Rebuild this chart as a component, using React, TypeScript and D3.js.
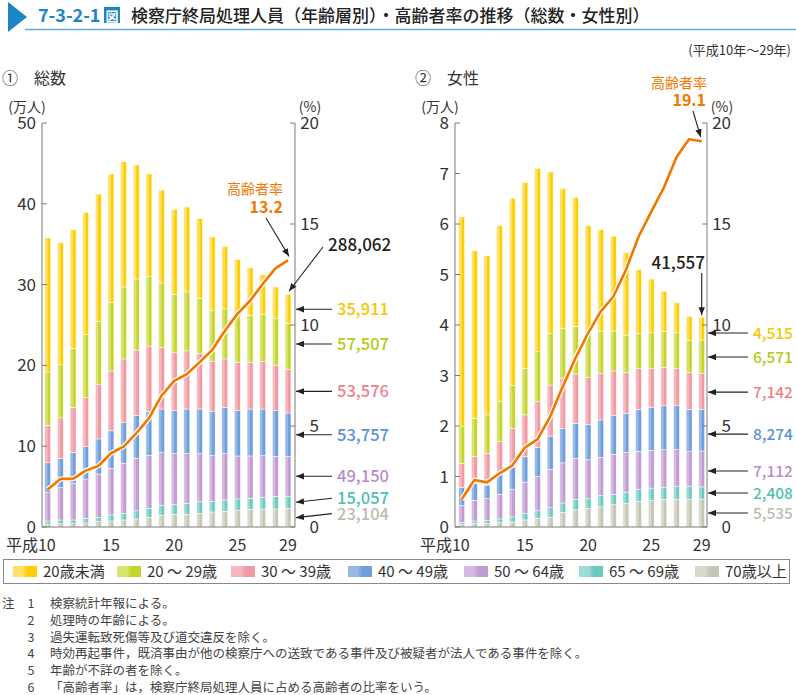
import React from "react";
import * as d3 from "d3";

const YEARS = [10, 11, 12, 13, 14, 15, 16, 17, 18, 19, 20, 21, 22, 23, 24, 25, 26, 27, 28, 29];
const X_TICKS = [10, 15, 20, 25, 29];
const KEYS = ["70p", "6569", "5064", "4049", "3039", "2029", "u20"];
const LEGEND_LABELS = ["20歳未満", "20 ～ 29歳", "30 ～ 39歳", "40 ～ 49歳", "50 ～ 64歳", "65 ～ 69歳", "70歳以上"];

// 総数 (万人)
const TOTAL_70P = [0.37, 0.4, 0.4, 0.5, 0.66, 0.74, 0.87, 1.0, 1.2, 1.44, 1.57, 1.57, 1.7, 1.86, 1.94, 2.1, 2.19, 2.23, 2.23, 2.3104];
const TOTAL_6569 = [0.37, 0.47, 0.47, 0.57, 0.54, 0.75, 0.82, 1.0, 1.1, 1.24, 1.23, 1.36, 1.44, 1.32, 1.4, 1.37, 1.36, 1.44, 1.57, 1.5057];
const TOTAL_5064 = [3.51, 4.0, 4.53, 4.87, 5.36, 5.77, 6.19, 6.5, 6.57, 6.52, 6.28, 6.15, 5.94, 5.65, 5.74, 5.32, 5.24, 5.16, 4.95, 4.915];
const TOTAL_4049 = [3.71, 3.63, 3.84, 4.0, 4.34, 4.64, 5.02, 5.3, 5.43, 5.4, 5.32, 5.52, 5.52, 5.47, 5.72, 5.61, 5.81, 5.77, 5.65, 5.3757];
const TOTAL_3039 = [4.64, 5.0, 5.56, 6.06, 6.7, 7.4, 7.9, 8.1, 8.1, 7.6, 7.2, 7.2, 6.9, 6.2, 6.0, 6.0, 5.8, 5.9, 5.6, 5.3576];
const TOTAL_2029 = [6.6, 6.6, 7.3, 7.8, 7.8, 8.5, 8.9, 8.8, 8.6, 8.0, 7.2, 7.3, 6.8, 6.3, 6.2, 5.6, 5.8, 5.8, 5.8, 5.7507];
const TOTAL_U20 = [16.6, 15.1, 14.7, 15.1, 15.8, 15.9, 15.5, 14.1, 12.7, 11.5, 10.5, 10.5, 9.9, 9.1, 7.7, 7.1, 5.9, 4.9, 3.9, 3.5911];
const TOTAL_RATE = [1.86, 2.38, 2.38, 2.79, 3.02, 3.65, 3.98, 4.64, 5.38, 6.5, 7.23, 7.57, 8.15, 8.76, 9.7, 10.55, 11.2, 12.03, 12.8, 13.2];
const TOTAL_LAST_LABELS = ["23,104", "15,057", "49,150", "53,757", "53,576", "57,507", "35,911"];
const TOTAL_SUM_LABEL = "288,062";
const TOTAL_RATE_LABEL = "13.2";

// 女性 (万人)
const FEMALE_70P = [0.05, 0.07, 0.07, 0.09, 0.1, 0.14, 0.17, 0.19, 0.29, 0.34, 0.37, 0.4, 0.44, 0.47, 0.51, 0.53, 0.55, 0.55, 0.55, 0.5535];
const FEMALE_6569 = [0.04, 0.05, 0.055, 0.07, 0.1, 0.13, 0.15, 0.19, 0.185, 0.2, 0.19, 0.22, 0.21, 0.22, 0.23, 0.24, 0.24, 0.26, 0.26, 0.2408];
const FEMALE_5064 = [0.34, 0.41, 0.435, 0.49, 0.55, 0.62, 0.68, 0.76, 0.795, 0.82, 0.77, 0.76, 0.79, 0.79, 0.76, 0.75, 0.74, 0.72, 0.68, 0.7112];
const FEMALE_4049 = [0.35, 0.33, 0.27, 0.41, 0.44, 0.5, 0.58, 0.66, 0.68, 0.69, 0.7, 0.74, 0.77, 0.77, 0.83, 0.85, 0.87, 0.87, 0.84, 0.8274];
const FEMALE_3039 = [0.48, 0.54, 0.63, 0.63, 0.76, 0.83, 0.9, 1.01, 0.99, 0.98, 0.93, 0.92, 0.88, 0.81, 0.81, 0.77, 0.76, 0.74, 0.73, 0.7142];
const FEMALE_2029 = [0.74, 0.75, 0.76, 0.8, 0.85, 0.92, 0.99, 1.02, 0.99, 0.94, 0.94, 0.84, 0.79, 0.74, 0.69, 0.71, 0.71, 0.71, 0.63, 0.6571];
const FEMALE_U20 = [4.14, 3.32, 3.15, 3.48, 3.71, 3.68, 3.63, 3.2, 2.77, 2.56, 2.07, 2.01, 1.88, 1.63, 1.27, 1.06, 0.8, 0.59, 0.48, 0.4515];
const FEMALE_RATE = [1.37, 2.33, 2.21, 2.66, 3.04, 3.93, 4.34, 5.46, 6.95, 8.35, 9.59, 10.66, 11.4, 12.72, 14.37, 15.6, 16.8, 18.3, 19.2, 19.1];
const FEMALE_LAST_LABELS = ["5,535", "2,408", "7,112", "8,274", "7,142", "6,571", "4,515"];
const FEMALE_SUM_LABEL = "41,557";
const FEMALE_RATE_LABEL = "19.1";

const NOTES = [
  "検察統計年報による。",
  "処理時の年齢による。",
  "過失運転致死傷等及び道交違反を除く。",
  "時効再起事件，既済事由が他の検察庁への送致である事件及び被疑者が法人である事件を除く。",
  "年齢が不詳の者を除く。",
  "「高齢者率」は，検察庁終局処理人員に占める高齢者の比率をいう。",
];

// styles (bottom-to-top order matching KEYS)
const BASE_COLORS = ["#c6c6b6", "#6dcabf", "#c19bd1", "#6e9edb", "#f09aa3", "#c4d52b", "#fdcf00"];
const LIGHT_COLORS = ["#d9d9cd", "#9cdcd4", "#d5b9e0", "#96b9e7", "#f6b8be", "#d9e46f", "#ffe16a"];
const TEXT_COLORS = ["#bcbcae", "#4fbfb2", "#b98ccb", "#5c92d6", "#ee828c", "#b4cb14", "#f7c600"];

const FONT = "'Noto Sans CJK JP', 'Noto Sans', sans-serif";
const BASE_Y = 527;
const TOP_Y = 123;
const BW = 6;
const ORANGE = "#f07800";
const AXIS = "#7a7a7a";
const TXT = "#333";

type Cfg = {
  id: string;
  axisL: number;
  axisR: number;
  c0: number;
  c1: number;
  yMax: number;
  yStep: number;
  series: number[][];
  rate: number[];
  lastLabels: string[];
  labelOffsets: number[];
  slanted: boolean[];
  labelX: number;
  labelSize: number;
  arrowX: number;
  heading: string;
  headingX: number;
};

function Panel({ cfg, children }: { cfg: Cfg; children?: (s: any) => React.ReactNode }) {
  const x = d3.scalePoint<number>().domain(YEARS).range([cfg.c0, cfg.c1]);
  const y = d3.scaleLinear().domain([0, cfg.yMax]).range([BASE_Y, TOP_Y]);
  const yr = d3.scaleLinear().domain([0, 20]).range([BASE_Y, TOP_Y]);
  const rows = YEARS.map((yy, i) => {
    const o: any = { year: yy };
    KEYS.forEach((k, j) => (o[k] = cfg.series[j][i]));
    return o;
  });
  const stacked = d3.stack<any>().keys(KEYS)(rows);
  const line = d3
    .line<number>()
    .x((_, i) => x(YEARS[i]) as number)
    .y((d) => yr(d));
  const lPath = line(cfg.rate) || "";
  const leftTicks = d3.range(0, cfg.yMax + 0.001, cfg.yStep);
  const rightTicks = [0, 5, 10, 15, 20];
  const lastIdx = YEARS.length - 1;
  const lastX = x(YEARS[lastIdx]) as number;
  const total = stacked[stacked.length - 1][lastIdx][1];

  return (
    <g fontFamily={FONT}>
      <text x={cfg.headingX} y={84} fontSize={16} fill={TXT}>
        {cfg.heading}
      </text>
      {/* axis units */}
      <text x={cfg.axisL - 15} y={112} fontSize={14} fill={TXT} textAnchor="middle">
        (万人)
      </text>
      <text x={cfg.axisR + 15} y={112} fontSize={14} fill={TXT} textAnchor="middle">
        (%)
      </text>
      {/* bars */}
      {stacked.map((layer, li) => (
        <g key={layer.key}>
          {layer.map((d, i) => (
            <rect
              key={i}
              x={(x(YEARS[i]) as number) - BW / 2}
              y={y(d[1])}
              width={BW}
              height={Math.max(0, y(d[0]) - y(d[1]))}
              fill={`url(#grad${li})`}
              stroke="#ffffff"
              strokeWidth={0.5}
            />
          ))}
        </g>
      ))}
      {/* axes */}
      <line x1={cfg.axisL} x2={cfg.axisL} y1={TOP_Y} y2={BASE_Y} stroke={AXIS} strokeWidth={1} />
      <line x1={cfg.axisR} x2={cfg.axisR} y1={TOP_Y} y2={BASE_Y} stroke={AXIS} strokeWidth={1} />
      <line x1={cfg.axisL} x2={cfg.axisR} y1={BASE_Y} y2={BASE_Y} stroke={AXIS} strokeWidth={1} />
      {leftTicks.map((t) => (
        <g key={"l" + t}>
          <line x1={cfg.axisL} x2={cfg.axisL + 5} y1={y(t)} y2={y(t)} stroke={AXIS} />
          <text x={cfg.axisL - 6} y={y(t) + 6} fontSize={17} fill={TXT} textAnchor="end">
            {t}
          </text>
        </g>
      ))}
      {rightTicks.map((t) => (
        <g key={"r" + t}>
          <line x1={cfg.axisR - 5} x2={cfg.axisR} y1={yr(t)} y2={yr(t)} stroke={AXIS} />
          <text x={cfg.axisR + 24} y={yr(t) + 6} fontSize={17} fill={TXT} textAnchor="end">
            {t}
          </text>
        </g>
      ))}
      {X_TICKS.map((t) => (
        <text
          key={"x" + t}
          x={t === 10 ? (x(t) as number) + 8 : (x(t) as number)}
          y={551}
          fontSize={16}
          fill={TXT}
          textAnchor={t === 10 ? "end" : "middle"}
        >
          {t === 10 ? "平成10" : t}
        </text>
      ))}
      {/* rate line */}
      <path d={lPath} fill="none" stroke="#ffffff" strokeWidth={5} strokeLinejoin="round" />
      <path d={lPath} fill="none" stroke={ORANGE} strokeWidth={2.6} strokeLinejoin="round" />
      {/* last-year labels */}
      {stacked.map((layer, li) => {
        const d = layer[lastIdx];
        const mid = y((d[0] + d[1]) / 2);
        const ly = mid + cfg.labelOffsets[li];
        const tipY = cfg.slanted[li] ? mid : ly;
        return (
          <g key={"lab" + li}>
            <line
              x1={cfg.arrowX}
              y1={ly}
              x2={cfg.axisR + 1}
              y2={tipY}
              stroke="#222"
              strokeWidth={1.1}
              markerEnd="url(#arrowHead)"
            />
            <text x={cfg.labelX} y={ly + 6} fontSize={cfg.labelSize} fontWeight={500} fill={TEXT_COLORS[li]}>
              {cfg.lastLabels[li]}
            </text>
          </g>
        );
      })}
      {children ? children({ x, y, yr, lastX, total, lastRate: cfg.rate[lastIdx] }) : null}
    </g>
  );
}

export default function App() {
  const totalCfg: Cfg = {
    id: "total",
    axisL: 42,
    axisR: 295,
    c0: 47.7,
    c1: 288,
    yMax: 50,
    yStep: 10,
    series: [TOTAL_70P, TOTAL_6569, TOTAL_5064, TOTAL_4049, TOTAL_3039, TOTAL_2029, TOTAL_U20],
    rate: TOTAL_RATE,
    lastLabels: TOTAL_LAST_LABELS,
    labelOffsets: [-4, -4, 0, 0, 0, -2.5, 0.5],
    slanted: [true, true, false, false, false, false, false],
    labelX: 337,
    labelSize: 16.5,
    arrowX: 332,
    heading: "①　総数",
    headingX: 2,
  };
  const femaleCfg: Cfg = {
    id: "female",
    axisL: 455,
    axisR: 707,
    c0: 461.7,
    c1: 701.7,
    yMax: 8,
    yStep: 1,
    series: [FEMALE_70P, FEMALE_6569, FEMALE_5064, FEMALE_4049, FEMALE_3039, FEMALE_2029, FEMALE_U20],
    rate: FEMALE_RATE,
    lastLabels: FEMALE_LAST_LABELS,
    labelOffsets: [0, 0, 2, 4, 1, 0.5, 4.5],
    slanted: [false, false, false, false, false, false, false],
    labelX: 753,
    labelSize: 15.5,
    arrowX: 748,
    heading: "②　女性",
    headingX: 415,
  };

  return (
    <svg width={796} height={695} viewBox="0 0 796 695" style={{ display: "block", position: "absolute", left: 0, top: 0 }}>
      <defs>
        {BASE_COLORS.map((c, i) => (
          <linearGradient key={i} id={`grad${i}`} x1="0" x2="1" y1="0" y2="0">
            <stop offset="0%" stopColor={LIGHT_COLORS[i]} />
            <stop offset="40%" stopColor={LIGHT_COLORS[i]} />
            <stop offset="60%" stopColor={c} />
            <stop offset="100%" stopColor={c} />
          </linearGradient>
        ))}
        <marker id="arrowHead" viewBox="0 0 10 8" refX="10" refY="4" markerWidth="8" markerHeight="6.5" markerUnits="userSpaceOnUse" orient="auto">
          <path d="M0,0 L10,4 L0,8 z" fill="#222" />
        </marker>
      </defs>
      <rect x={0} y={0} width={796} height={695} fill="#ffffff" />
      {/* title */}
      <path d="M8,2 L27,17 L8,32 Z" fill="#1b86c3" />
      <line x1={25} x2={796} y1={29.5} y2={29.5} stroke="#5aaad8" strokeWidth={1.5} />
      <text x={38} y={22} fontFamily={FONT} fontSize={18} fontWeight={700} fill="#1b86c3">
        7-3-2-1
      </text>
      <rect x={104} y={7} width={16} height={16} fill="#1b86c3" />
      <text x={112} y={20.5} fontFamily={FONT} fontSize={13} fontWeight={700} fill="#ffffff" textAnchor="middle">
        図
      </text>
      <text x={131} y={22} fontFamily={FONT} fontSize={17} fontWeight={500} fill="#222">
        検察庁終局処理人員（年齢層別）・高齢者率の推移（総数・女性別）
      </text>
      <text x={791} y={55} fontFamily={FONT} fontSize={13} fill={TXT} textAnchor="end">
        (平成10年～29年)
      </text>

      <Panel cfg={totalCfg}>
        {({ y, yr, lastX, total, lastRate }: any) => (
          <g>
            <text x={283} y={194} fontSize={14} fill={ORANGE} textAnchor="end">
              高齢者率
            </text>
            <text x={283} y={213} fontSize={16} fontWeight={700} fill={ORANGE} textAnchor="end">
              {TOTAL_RATE_LABEL}
            </text>
            <line x1={266} y1={218} x2={lastX + 1} y2={yr(lastRate) - 4} stroke="#222" strokeWidth={1.1} markerEnd="url(#arrowHead)" />
            <text x={328} y={251} fontSize={17} fontWeight={500} fill="#222">
              {TOTAL_SUM_LABEL}
            </text>
            <line x1={323} y1={247} x2={lastX + 1} y2={y(total) - 3} stroke="#222" strokeWidth={1.1} markerEnd="url(#arrowHead)" />
          </g>
        )}
      </Panel>
      <Panel cfg={femaleCfg}>
        {({ y, yr, lastX, total, lastRate }: any) => (
          <g>
            <text x={707} y={88} fontSize={14} fill={ORANGE} textAnchor="end">
              高齢者率
            </text>
            <text x={706} y={106} fontSize={16} fontWeight={700} fill={ORANGE} textAnchor="end">
              {FEMALE_RATE_LABEL}
            </text>
            <line x1={693} y1={111} x2={lastX - 1} y2={yr(lastRate) - 4} stroke="#222" strokeWidth={1.1} markerEnd="url(#arrowHead)" />
            <text x={705} y={269} fontSize={17} fontWeight={500} fill="#222" textAnchor="end">
              {FEMALE_SUM_LABEL}
            </text>
            <line x1={lastX} y1={273} x2={lastX} y2={y(total) - 2} stroke="#222" strokeWidth={1.1} markerEnd="url(#arrowHead)" />
          </g>
        )}
      </Panel>

      {/* legend */}
      <rect x={3.5} y={559.5} width={786} height={24} fill="none" stroke="#888" strokeWidth={1} />
      {LEGEND_LABELS.map((lab, i) => {
        const pos = [13, 117, 231, 348, 464, 579, 695][i];
        const gi = KEYS.length - 1 - i;
        return (
          <g key={lab} fontFamily={FONT}>
            <rect x={pos} y={566} width={24} height={11} fill={`url(#grad${gi})`} />
            <text x={pos + 30} y={577} fontSize={15} fill={TXT}>
              {lab}
            </text>
          </g>
        );
      })}

      {/* notes */}
      <g fontFamily={FONT} fontSize={12.5} fill="#444">
        <text x={2} y={608}>注</text>
        {NOTES.map((n, i) => (
          <g key={i}>
            <text x={31} y={608 + i * 16.8} textAnchor="middle">
              {i + 1}
            </text>
            <text x={50} y={608 + i * 16.8}>
              {n}
            </text>
          </g>
        ))}
      </g>
    </svg>
  );
}
